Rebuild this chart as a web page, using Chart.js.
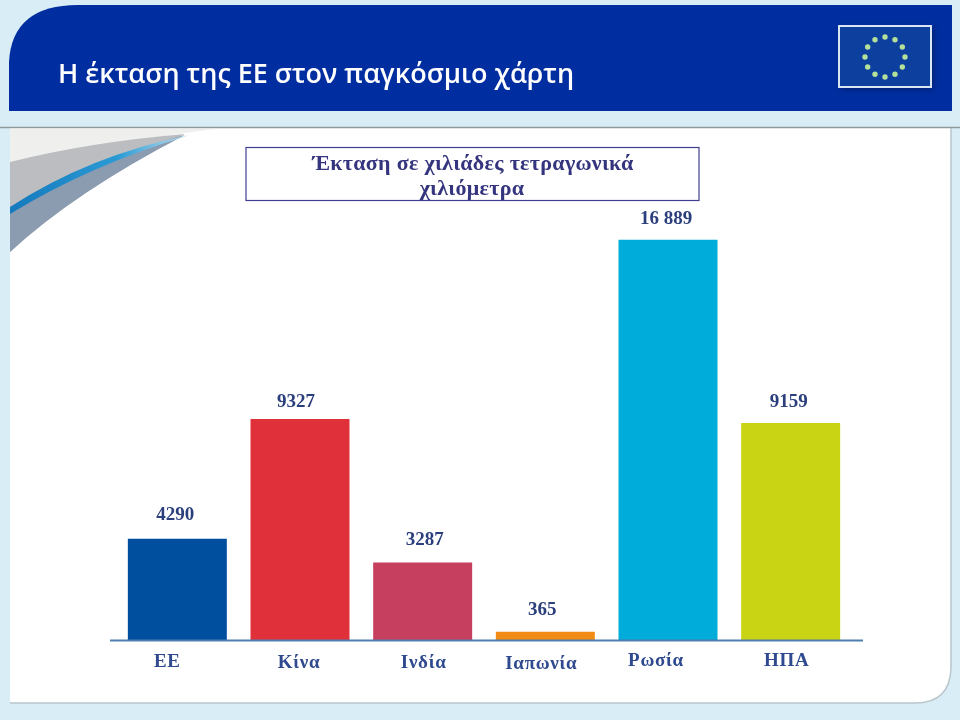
<!DOCTYPE html>
<html>
<head>
<meta charset="utf-8">
<style>
  html, body { margin: 0; padding: 0; background: #d8edf6; }
  #chart { display: block; }
</style>
<script src="https://cdn.jsdelivr.net/npm/chart.js@4"></script>
</head>
<body>
<canvas id="chart" width="960" height="720"></canvas>
<script>
const categories = ['ΕΕ', 'Κίνα', 'Ινδία', 'Ιαπωνία', 'Ρωσία', 'ΗΠΑ'];
const areaValues = [4290, 9327, 3287, 365, 16889, 9159];
const valueLabels = ['4290', '9327', '3287', '365', '16 889', '9159'];
const barColors = ['#004f9f', '#e0313a', '#c63f5f', '#f28c14', '#00acd9', '#c8d414'];
const headingText = 'Η έκταση της ΕΕ στον παγκόσμιο χάρτη';
const boxLines = ['Έκταση σε χιλιάδες τετραγωνικά', 'χιλιόμετρα'];

// the labels in the slide are not centred exactly on their bars
const labelShift = [-10, -1, 1, -4, -12, -4];
const labelDrop = [22, 23, 23, 24, 21, 21];
const valueShift = [-2, -4, 2, -3, -2, -2];
const valueRise = [24, 17, 22, 22, 21, 21];

function drawSlide(ctx) {
    // pale page
    ctx.fillStyle = '#d8edf6';
    ctx.fillRect(0, 0, 960, 720);

    // white panel
    ctx.beginPath();
    ctx.moveTo(10, 127);
    ctx.lineTo(951, 127);
    ctx.lineTo(951, 668);
    ctx.quadraticCurveTo(950, 703, 915, 703);
    ctx.lineTo(10, 703);
    ctx.closePath();
    ctx.fillStyle = '#ffffff';
    ctx.fill();
    ctx.strokeStyle = '#b9c6cc';
    ctx.lineWidth = 1.5;
    ctx.beginPath();
    ctx.moveTo(951, 127);
    ctx.lineTo(951, 668);
    ctx.quadraticCurveTo(950, 703, 915, 703);
    ctx.lineTo(10, 703);
    ctx.stroke();
    ctx.strokeStyle = '#8f9a9f';
    ctx.beginPath();
    ctx.moveTo(0, 127.5);
    ctx.lineTo(960, 127.5);
    ctx.stroke();

    // corner swoosh
    ctx.fillStyle = '#efefee';
    ctx.beginPath();
    ctx.moveTo(10, 129);
    ctx.lineTo(215, 129);
    ctx.quadraticCurveTo(90, 145, 10, 165);
    ctx.closePath();
    ctx.fill();
    ctx.fillStyle = '#bcbdc0';
    ctx.beginPath();
    ctx.moveTo(10, 162);
    ctx.quadraticCurveTo(90, 142, 185, 134);
    ctx.quadraticCurveTo(70, 195, 10, 252);
    ctx.closePath();
    ctx.fill();
    ctx.fillStyle = '#8b9bb0';
    ctx.beginPath();
    ctx.moveTo(10, 212);
    ctx.quadraticCurveTo(90, 160, 185, 135);
    ctx.quadraticCurveTo(75, 192, 10, 252);
    ctx.closePath();
    ctx.fill();
    const band = ctx.createLinearGradient(10, 0, 190, 0);
    band.addColorStop(0, '#1479bd');
    band.addColorStop(0.6, '#2b9bd4');
    band.addColorStop(1, '#c5e3f2');
    ctx.fillStyle = band;
    ctx.beginPath();
    ctx.moveTo(10, 207);
    ctx.quadraticCurveTo(90, 155, 190, 135);
    ctx.quadraticCurveTo(90, 165, 10, 214);
    ctx.closePath();
    ctx.fill();

    // header bar
    ctx.fillStyle = '#002d9f';
    ctx.beginPath();
    ctx.moveTo(9, 111);
    ctx.lineTo(9, 62);
    ctx.quadraticCurveTo(12, 5, 78, 5);
    ctx.lineTo(952, 5);
    ctx.lineTo(952, 111);
    ctx.closePath();
    ctx.fill();
    ctx.fillStyle = '#ffffff';
    ctx.font = '600 27px "Open Sans", "Noto Sans", sans-serif';
    ctx.textAlign = 'left';
    ctx.textBaseline = 'alphabetic';
    ctx.fillText(headingText, 58, 83);

    // flag
    ctx.save();
    ctx.shadowColor = 'rgba(0, 20, 70, 0.6)';
    ctx.shadowBlur = 6;
    ctx.shadowOffsetX = 2;
    ctx.shadowOffsetY = 2;
    ctx.fillStyle = '#0c3f9e';
    ctx.fillRect(839, 26, 92, 61);
    ctx.restore();
    ctx.strokeStyle = '#d7e6f2';
    ctx.lineWidth = 2;
    ctx.strokeRect(839, 26, 92, 61);
    ctx.fillStyle = '#b4e09a';
    for (let i = 0; i < 12; i++) {
        const a = i * Math.PI / 6;
        ctx.beginPath();
        ctx.arc(885 + 20 * Math.cos(a), 57 + 20 * Math.sin(a), 2.7, 0, Math.PI * 2);
        ctx.fill();
    }

    // boxed caption
    ctx.fillStyle = '#ffffff';
    ctx.fillRect(246, 147.5, 453, 53);
    ctx.strokeStyle = '#3f3f8f';
    ctx.lineWidth = 1.2;
    ctx.strokeRect(246, 147.5, 453, 53);
    ctx.fillStyle = '#35357f';
    ctx.font = 'bold 22px "Liberation Serif", serif';
    ctx.letterSpacing = '0.3px';
    ctx.textAlign = 'center';
    ctx.fillText(boxLines[0], 473, 170);
    ctx.fillText(boxLines[1], 472, 195);
    ctx.letterSpacing = '0px';
}

const slidePlugin = {
    id: 'slide',
    beforeDraw(chart) {
        drawSlide(chart.ctx);
    },
    afterDatasetsDraw(chart) {
        const ctx = chart.ctx;
        const meta = chart.getDatasetMeta(0);
        const base = chart.scales.y.getPixelForValue(0);

        // axis line runs a little past the outer bars
        ctx.strokeStyle = '#4f7fae';
        ctx.lineWidth = 2;
        ctx.beginPath();
        ctx.moveTo(chart.chartArea.left - 6, base);
        ctx.lineTo(chart.chartArea.right + 11, base);
        ctx.stroke();

        ctx.textAlign = 'center';
        ctx.textBaseline = 'middle';
        meta.data.forEach((bar, i) => {
            ctx.fillStyle = '#2b3f7c';
            ctx.font = 'bold 19px "Liberation Serif", serif';
            ctx.fillText(valueLabels[i], bar.x + valueShift[i], bar.y - valueRise[i]);
            ctx.fillStyle = '#2f4a8e';
            ctx.font = 'bold 19px "Liberation Serif", serif';
            ctx.letterSpacing = '0.7px';
            ctx.fillText(categories[i], bar.x + labelShift[i], base + labelDrop[i]);
            ctx.letterSpacing = '0px';
        });
    }
};

new Chart(document.getElementById('chart'), {
    type: 'bar',
    data: {
        labels: categories,
        datasets: [{
            data: areaValues,
            backgroundColor: barColors,
            barPercentage: 0.807,
            categoryPercentage: 1
        }]
    },
    options: {
        responsive: false,
        animation: false,
        devicePixelRatio: 1,
        layout: { padding: { left: 116, right: 108, top: 237, bottom: 79.5 } },
        scales: {
            x: { display: false },
            y: { display: false, min: 0, max: 17000 }
        },
        plugins: {
            legend: { display: false },
            tooltip: { enabled: false }
        }
    },
    plugins: [slidePlugin]
});
</script>
</body>
</html>
